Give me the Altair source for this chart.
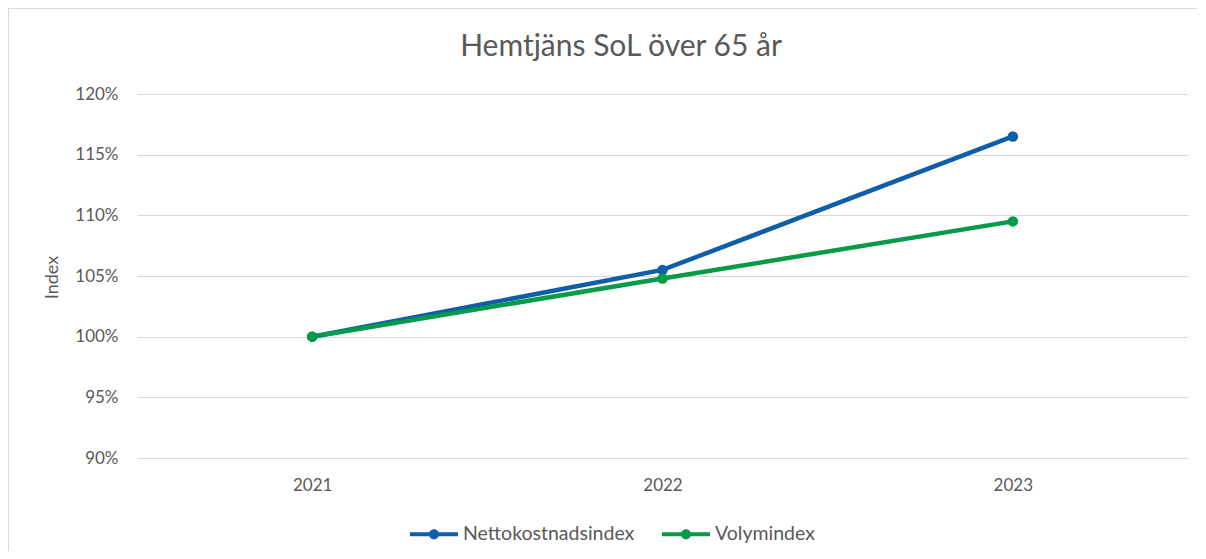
import altair as alt
import pandas as pd

years = ["2021", "2022", "2023"]
netto = [1.000, 1.055, 1.165]
volym = [1.000, 1.048, 1.095]
series_names = ["Nettokostnadsindex", "Volymindex"]
colors = ["#0F5EA8", "#079A49"]
y_ticks = [0.90, 0.95, 1.00, 1.05, 1.10, 1.15, 1.20]
title_text = "Hemtjäns SoL över 65 år"

rows = []
for name, vals in zip(series_names, [netto, volym]):
    for yr, v in zip(years, vals):
        rows.append({"År": yr, "Serie": name, "Index": v})
df = pd.DataFrame(rows)

FONT = "Lato"
GRAY = "#595959"
GRID = "#D9D9D9"

legend_path = ("M-2,-0.17 H2 V0.17 H-2 Z "
               "M0.42,0 A0.42,0.42 0 1,1 -0.42,0 A0.42,0.42 0 1,1 0.42,0 Z")

base = alt.Chart(df).encode(
    x=alt.X("År:N", sort=years,
            scale=alt.Scale(type="point", padding=0.5),
            axis=alt.Axis(title=None, ticks=False, domain=False, grid=False,
                          labelAngle=0, labelPadding=19, labelFontSize=17,
                          labelColor=GRAY, labelFont=FONT)),
    y=alt.Y("Index:Q",
            scale=alt.Scale(domain=[0.9, 1.2], nice=False, zero=False),
            axis=alt.Axis(values=y_ticks, format=".0%", ticks=False, domain=False,
                          gridColor=GRID, gridWidth=1.2,
                          labelPadding=19, labelFontSize=17, labelColor=GRAY,
                          labelFont=FONT,
                          title="Index", titleFont=FONT, titleFontSize=18,
                          titleFontWeight="normal", titleColor=GRAY,
                          titleX=-85, titleY=183, titleAngle=270,
                          titleAlign="center", titleBaseline="middle")),
    color=alt.Color("Serie:N", sort=series_names,
                    scale=alt.Scale(domain=series_names, range=colors),
                    legend=alt.Legend(title=None, orient="none", direction="horizontal",
                                      legendX=285, legendY=428,
                                      symbolType=legend_path, symbolSize=576,
                                      symbolStrokeWidth=0, symbolOpacity=1,
                                      labelFont=FONT, labelFontSize=19.5,
                                      labelLimit=400,
                                      labelColor=GRAY, labelOffset=17,
                                      columnPadding=27)),
)

lines = base.mark_line(strokeWidth=4.5)
points = base.mark_point(filled=True, size=110, opacity=1)

frame = alt.Chart(pd.DataFrame({"a": [0]}))
border_top = frame.mark_rule(stroke=GRID, strokeWidth=2).encode(
    x=alt.value(-129), x2=alt.value(1100), y=alt.value(-86))
border_left = frame.mark_rule(stroke=GRID, strokeWidth=2).encode(
    x=alt.value(-129), y=alt.value(-86), y2=alt.value(480))

title = alt.Chart(pd.DataFrame({"t": [title_text]})).mark_text(
    font=FONT, fontSize=30, color=GRAY, align="center", baseline="middle"
).encode(text="t:N", x=alt.value(484), y=alt.value(-47))

chart = alt.layer(border_top, border_left, lines, points, title).properties(
    width=1051, height=364,
    padding={"left": 129, "top": 86, "right": 9, "bottom": 93},
    autosize=alt.AutoSizeParams(type="none"),
).configure(background="white").configure_view(stroke=None)

chart.save("out.html", embed_options={"renderer": "svg", "actions": False})
